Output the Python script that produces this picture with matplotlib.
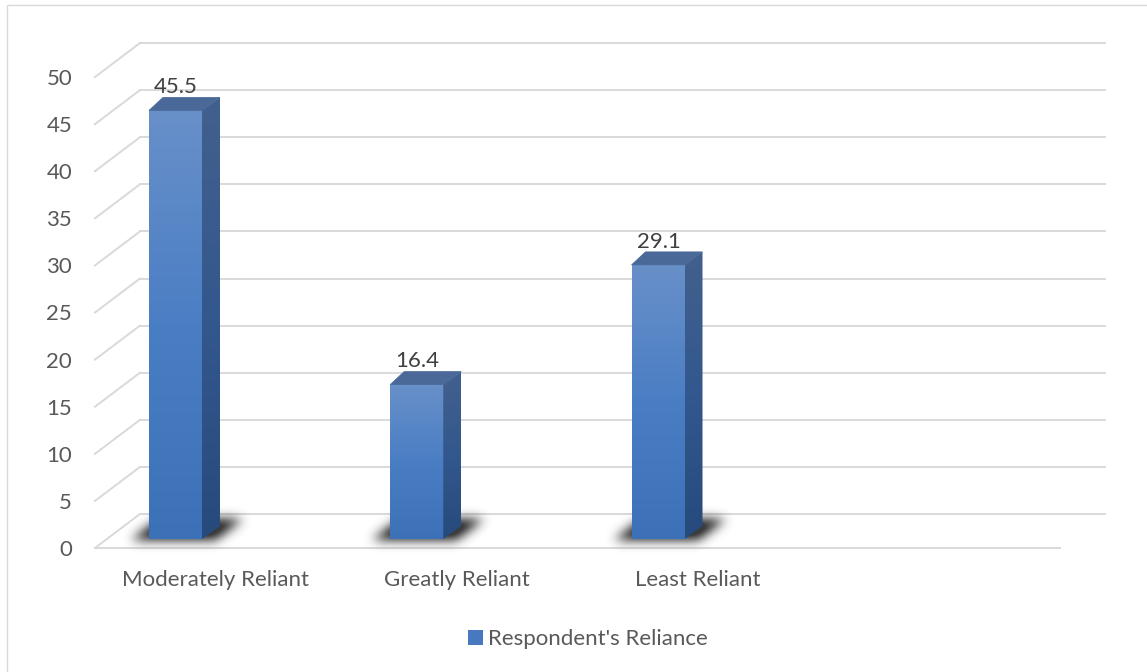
import numpy as np
import matplotlib.pyplot as plt
from matplotlib.colors import LinearSegmentedColormap
from matplotlib.patches import Polygon, Patch, Rectangle
from matplotlib.path import Path

# Respondent's reliance (%)
categories = ["Moderately Reliant", "Greatly Reliant", "Least Reliant", ""]
values = [45.5, 16.4, 29.1]
series_name = "Respondent's Reliance"
y_ticks = list(range(0, 55, 5))

plt.rcParams['font.family'] = ['Lato', 'DejaVu Sans']

W, H = 1147, 672
fig = plt.figure(figsize=(W / 100, H / 100), dpi=100)
fig.patch.set_facecolor('white')

# front plane of the 3-D box
ax = fig.add_axes([95 / W, (H - 548) / H, 965 / W, 471 / H])
ax.set_xlim(0, len(categories))
ax.set_ylim(0, 50)
ax.patch.set_visible(False)
for s in ax.spines.values():
    s.set_visible(False)

# pixel -> data scale factors
sx = len(categories) / 965
sy = 50 / 471

# depth of the back wall and of each bar
ddx, ddy = 45 * sx, 34 * sy
bdx, bdy = 17 * sx, 13 * sy
rise = 9 * sy
bar_off = 54 / 241.25
bar_w = 54 / 241.25

grid_c = '#D9D9D9'
ncat = len(categories)
fs = 16

# back wall gridlines + left wall diagonals
for v in y_ticks:
    ax.plot([ddx, ncat + ddx], [v + ddy, v + ddy], color=grid_c, lw=1.4,
            clip_on=False, zorder=1)
    ax.plot([0, ddx], [v, v + ddy], color=grid_c, lw=1.4, clip_on=False, zorder=1)
# front edge of the floor
ax.plot([0, ncat], [0, 0], color=grid_c, lw=1.4, clip_on=False, zorder=1)

front_cmap = LinearSegmentedColormap.from_list('front', ['#3C71B8', '#4A7EC4', '#6890C9'])
side_cmap = LinearSegmentedColormap.from_list('side', ['#264A7C', '#33588E', '#42608D'])
grad = np.linspace(0, 1, 256).reshape(-1, 1)


def blur(a, sigma):
    r = int(3 * sigma)
    k = np.exp(-0.5 * (np.arange(-r, r + 1) / sigma) ** 2)
    k /= k.sum()
    a = np.apply_along_axis(lambda m: np.convolve(m, k, mode='same'), 0, a)
    a = np.apply_along_axis(lambda m: np.convolve(m, k, mode='same'), 1, a)
    return a


for i, v in enumerate(values):
    x0 = i + bar_off
    x1 = x0 + bar_w
    y0 = rise
    y1 = v + rise

    # soft floor shadow (blurred parallelogram)
    shadow = np.array([
        [x0 - 18 * sx, y0 - 1 * sy],
        [x0 + 66 * sx, y0 - 1 * sy],
        [x0 + 94 * sx, y0 + 20 * sy],
        [x0 + 10 * sx, y0 + 20 * sy],
    ])
    m = 18
    gx0, gx1 = x0 - (18 + m) * sx, x0 + (94 + m) * sx
    gy0, gy1 = y0 - (1 + m) * sy, y0 + (20 + m) * sy
    nx = int(round((gx1 - gx0) / sx))
    ny = int(round((gy1 - gy0) / sy))
    gxx, gyy = np.meshgrid(gx0 + (np.arange(nx) + 0.5) * sx,
                           gy0 + (np.arange(ny) + 0.5) * sy)
    mask = Path(shadow).contains_points(np.c_[gxx.ravel(), gyy.ravel()]).reshape(ny, nx)
    soft = blur(mask.astype(float), 5.5)
    rgba = np.zeros((ny, nx, 4))
    rgba[..., :3] = 0.1
    rgba[..., 3] = np.clip(soft * 1.05, 0, 0.85)
    ax.imshow(rgba, origin='lower', aspect='auto', extent=(gx0, gx1, gy0, gy1),
              zorder=2, clip_on=False, interpolation='bilinear')

    # front face
    ax.imshow(grad, cmap=front_cmap, origin='lower', aspect='auto',
              extent=(x0, x1, y0, y1), zorder=3, clip_on=False)

    # side face
    xs = x1 - 1 * sx
    side = Polygon([[xs, y0], [x1 + bdx, y0 + bdy], [x1 + bdx, y1 + bdy], [xs, y1]],
                   closed=True, facecolor='none', edgecolor='none')
    ax.add_patch(side)
    im = ax.imshow(grad, cmap=side_cmap, origin='lower', aspect='auto',
                   extent=(xs, x1 + bdx, y0, y1 + bdy), zorder=3)
    im.set_clip_path(side)

    # top face
    ax.add_patch(Polygon([[x0, y1], [x1, y1], [x1 + bdx, y1 + bdy], [x0 + 14 * sx, y1 + bdy]],
                         closed=True, facecolor='#4A6998', edgecolor='#4A6998', lw=0.5,
                         zorder=4, clip_on=False))

    # value label
    ax.annotate(f"{v}", (x0 + bar_w / 2, y1 + bdy), xytext=(0, 3),
                textcoords='offset points', ha='center', va='baseline',
                fontsize=fs, color='#404040', zorder=5, annotation_clip=False)

ax.set_xlim(0, ncat)
ax.set_ylim(0, 50)

ax.set_yticks(y_ticks)
ax.set_xticks(np.arange(ncat) + 0.5)
ax.set_xticklabels(categories)
ax.tick_params(axis='y', length=0, pad=16.5, labelsize=fs, labelcolor='#595959')
ax.tick_params(axis='x', length=0, pad=16, labelsize=fs, labelcolor='#595959')

fig.legend(handles=[Patch(facecolor='#4878C0', edgecolor='none')], labels=[series_name],
           loc='center', bbox_to_anchor=(588 / W, 1 - 639 / H), frameon=False,
           fontsize=fs, handlelength=0.65, handleheight=0.65, handletextpad=0.25,
           labelcolor='#595959')

# chart area border
fig.add_artist(Rectangle((7 / W, -0.5), 2, 0.5 + (H - 5) / H, transform=fig.transFigure,
                         fill=False, edgecolor=grid_c, lw=1))

fig.savefig('out.png', dpi=100)
